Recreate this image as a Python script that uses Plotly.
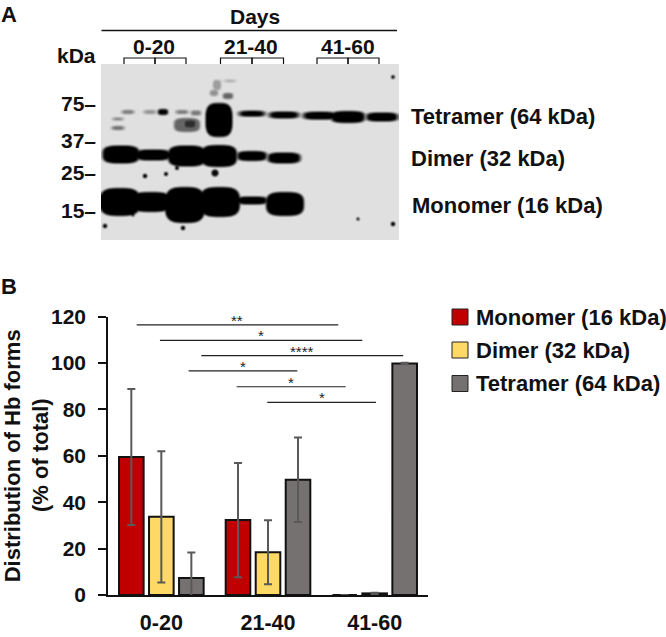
import numpy as np
import plotly.graph_objects as go

W, H = 666, 637
FONT = "Liberation Sans"

# ---- Panel B data ----
groups = ["0-20", "21-40", "41-60"]
y_ticks = [0, 20, 40, 60, 80, 100, 120]
monomer = [59.5, 32.3, 0]
dimer = [33.7, 18.4, 0.7]
tetramer = [7.3, 49.7, 99.8]
monomer_err = [29.3, 24.6, 0]
dimer_err = [28.3, 13.8, 0.3]
tetramer_err = [11.0, 18.2, 0.3]

sig_labels = ["*", "**", "*", "****", "*", "*", "*"]
sig_start = [1.268, -0.231, -0.013, 0.375, 0.256, 0.706, 0.993]
sig_end = [2.284, 1.659, 1.884, 2.268, 1.275, 1.728, 2.012]
sig_level = [123.1, 116.5, 109.8, 103.2, 96.6, 89.8, 83.1]

# ---- Panel A data: bands of the blot (lane x, row y, half width, half height, darkness) ----
band_x = [121, 153, 187, 219, 252, 284,
          120, 151, 185, 220, 252, 285,
          252, 284, 320, 348, 382, 219,
          128, 150, 163, 182, 196, 187, 190, 118, 118, 217, 228, 214, 218, 230]
band_y = [154.5, 155, 156, 156, 156, 158,
          202, 202, 205, 202, 200.5, 204,
          113.7, 115, 115.7, 117, 117, 120,
          112, 112, 112, 112, 113, 125, 124, 119, 128, 85, 96, 93, 82, 81]
band_w = [18.5, 18, 19, 18, 15, 16.5,
          20, 20, 20, 20, 16, 19,
          13, 15, 17, 17, 16, 13.5,
          6, 6, 5, 6, 5, 13, 6, 5, 6, 4, 5, 4, 3, 5]
band_h = [9, 5.5, 10.5, 11, 5, 5.5,
          14, 10, 18, 15, 4, 12,
          3, 3.5, 4, 6, 4.5, 17,
          2, 2, 3, 2, 2.5, 7, 4, 1.5, 2, 5, 3, 3, 2, 1.2]
band_d = [1, 1, 1, 1, 1, 1,
          1, 1, 1, 1, 1, 1,
          1, 1, 1, 1, 1, 1,
          0.45, 0.35, 1, 0.45, 0.45, 0.55, 0.8, 0.4, 0.5, 0.3, 0.55, 0.35, 0.2, 0.25]
speck_x = [105, 133, 145, 166, 177, 183, 215, 393, 358, 393]
speck_y = [226, 215, 176, 174, 168, 228, 173, 77, 219, 224]
speck_r = [2.2, 1.5, 2.2, 2, 2, 2.2, 3.5, 1.8, 1.5, 2.2]

kda_labels = ["75", "37", "25", "15"]

blot_x = np.arange(101, 399)
blot_y = np.arange(64, 240)
gx, gy = np.meshgrid(blot_x + 0.5, blot_y + 0.5)
dark = np.zeros_like(gx)
for x0, y0, w, h, d in zip(band_x, band_y, band_w, band_h, band_d):
    r = (np.abs((gx - x0) / w) ** 3.2 + np.abs((gy - y0) / h) ** 3.2) ** (1 / 3.2)
    edge = np.clip((1 - r) * min(w, h) / 1.6 + 0.5, 0, 1)
    dark = np.maximum(dark, d * edge)
for x0, y0, rad in zip(speck_x, speck_y, speck_r):
    r = np.hypot(gx - x0, gy - y0)
    dark = np.maximum(dark, np.clip(rad + 0.5 - r, 0, 1) * 0.95)
# slight softening, as on a scanned film
padded = np.pad(dark, 1, mode="edge")
dark = sum(padded[1 + j:padded.shape[0] - 1 + j, 1 + i:padded.shape[1] - 1 + i]
           for i in (-1, 0, 1) for j in (-1, 0, 1)) / 9
blot = 224 * (1 - dark)


def px(x):
    return x / W


def py(y):
    return 1 - y / H


fig = go.Figure()

fig.add_trace(go.Heatmap(
    x=blot_x + 0.5, y=blot_y + 0.5, z=blot, xaxis="x2", yaxis="y2",
    colorscale=[[0, "#000000"], [1, "#ffffff"]], zmin=0, zmax=255,
    showscale=False, hoverinfo="skip",
))

for name, vals, errs, col in [
    ("Monomer (16 kDa)", monomer, monomer_err, "#C00000"),
    ("Dimer (32 kDa)", dimer, dimer_err, "#FFD966"),
    ("Tetramer (64 kDa)", tetramer, tetramer_err, "#767171"),
]:
    fig.add_trace(go.Bar(
        x=[0, 1, 2], y=vals, name=name, marker=dict(color=col, line=dict(color="#111111", width=2)),
        error_y=dict(type="data", array=errs, color="#595959", thickness=2, width=4),
        showlegend=False,
    ))

for a, b, lv, lab in zip(sig_start, sig_end, sig_level, sig_labels):
    fig.add_trace(go.Scatter(
        x=[a, b], y=[lv, lv], mode="lines", line=dict(color="#222222", width=1.2),
        cliponaxis=False, showlegend=False, hoverinfo="skip",
    ))
    fig.add_annotation(x=(a + b) / 2, y=lv, yshift=-6, text=lab, showarrow=False, yanchor="bottom",
                       font=dict(family=FONT, size=15, color="#222222"))

annos = []


def txt(x, y, s, size=22, anchor="center", angle=0):
    annos.append(dict(
        x=px(x), y=py(y), xref="paper", yref="paper", text=s, showarrow=False,
        xanchor=anchor, yanchor="middle", textangle=angle, borderpad=0, borderwidth=0,
        font=dict(family=FONT, size=size, color="#111111"),
    ))


B = lambda s: f"<b>{s}</b>"
txt(1, 14, B("A"), 22, "left")
txt(1, 287, B("B"), 22, "left")
txt(255, 16, B("Days"), 21)
for x0, g in zip([154, 251, 348], groups):
    txt(x0, 46, B(g), 21)
txt(96, 55, B("kDa"), 21, "right")
for y0, k in zip([104, 140, 172, 210.5], kda_labels):
    txt(96, y0, B(k + "–"), 21, "right")
txt(411, 117, B("Tetramer (64 kDa)"), 22, "left")
txt(411, 159, B("Dimer (32 kDa)"), 22, "left")
txt(412, 205, B("Monomer (16 kDa)"), 22, "left")
txt(40, 455, B("(% of total)"), 22, "center", -90)

for y0, name, col in [(317, "Monomer (16 kDa)", "#C00000"),
                      (350, "Dimer (32 kDa)", "#FFD966"),
                      (383.5, "Tetramer (64 kDa)", "#767171")]:
    txt(476, y0, B(name), 22, "left")
    fig.add_shape(type="rect", xref="paper", yref="paper",
                  x0=px(452), x1=px(468), y0=py(y0 - 8), y1=py(y0 + 8),
                  fillcolor=col, line=dict(color="#222222", width=1))

shapes = [dict(type="line", xref="paper", yref="paper", x0=px(101.5), x1=px(397), y0=py(30.5), y1=py(30.5),
               line=dict(color="#111111", width=1.5))]
for a, b, c in [(124, 155, 186), (220.5, 252, 283.5), (317, 348, 379)]:
    for xa, xb in [(a, b), (b, c)]:
        shapes.append(dict(type="path", xref="paper", yref="paper",
                           path=f"M {px(xa)} {py(64)} L {px(xa)} {py(58)} L {px(xb)} {py(58)} L {px(xb)} {py(64)}",
                           line=dict(color="#111111", width=1.2)))
for s in shapes:
    fig.add_shape(**s)

fig.update_layout(
    width=W, height=H, margin=dict(l=0, r=0, t=0, b=0, autoexpand=False), autosize=False,
    paper_bgcolor="white", plot_bgcolor="white",
    barmode="group", bargap=0.156, bargroupgap=0.18,
    annotations=list(fig.layout.annotations) + annos,
    xaxis=dict(domain=[px(108), px(428)], range=[-0.5, 2.5], tickvals=[0, 1, 2], ticktext=[B(g) for g in groups],
               showgrid=False, zeroline=False, showline=True, linecolor="#111111", linewidth=1.5,
               ticks="outside", ticklen=7, tickcolor="rgba(0,0,0,0)", anchor="y", automargin=False,
               tickfont=dict(family=FONT, size=21.5, color="#111111")),
    yaxis=dict(domain=[py(595), py(316.7)], range=[0, 120], tickvals=y_ticks, ticktext=[B(t) for t in y_ticks],
               automargin=False, ticklabelstandoff=8,
               showgrid=False, zeroline=False, showline=True, linecolor="#111111", linewidth=1.5,
               ticks="outside", ticklen=8, tickwidth=1.5, tickcolor="#111111", anchor="x",
               tickfont=dict(family=FONT, size=21, color="#111111"),
               title=dict(text=B("Distribution of Hb forms"), standoff=26,
                          font=dict(family=FONT, size=22, color="#111111"))),
    xaxis2=dict(domain=[px(101), px(399)], range=[101, 399], visible=False, anchor="y2"),
    yaxis2=dict(domain=[py(240), py(64)], range=[240, 64], visible=False, anchor="x2"),
)

fig.write_html("out.html", post_script="document.body.style.margin='0';",
               config={"displayModeBar": False})
